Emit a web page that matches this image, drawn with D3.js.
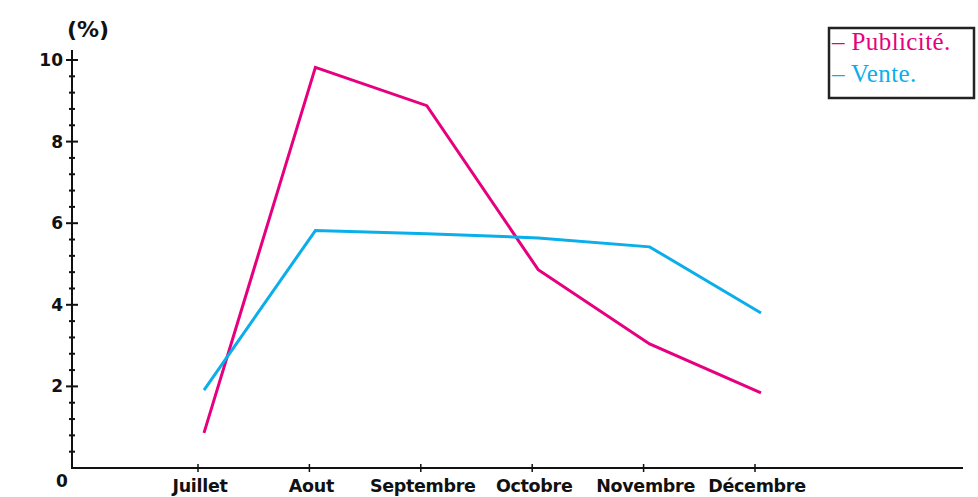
<!DOCTYPE html>
<html>
<head>
<meta charset="utf-8">
<script src="https://cdn.jsdelivr.net/npm/d3@7"></script>
<style>
  html, body { margin: 0; padding: 0; background: #ffffff; }
  svg { display: block; }
</style>
</head>
<body>
<svg id="chart" width="978" height="497"></svg>
<script>
// ---- Data ----
const months = ["Juillet", "Aout", "Septembre", "Octobre", "Novembre", "Décembre"];
const publicite = [0.86, 9.82, 8.88, 4.86, 3.04, 1.84];
const vente = [1.91, 5.82, 5.74, 5.64, 5.42, 3.80];
const yMajorTicks = [2, 4, 6, 8, 10];
const yMinorTicks = [0.4, 0.8, 1.2, 1.6, 2.4, 2.8, 3.2, 3.6, 4.4, 4.8, 5.2, 5.6, 6.4, 6.8, 7.2, 7.6, 8.4, 8.8, 9.2, 9.6];
const seriesNames = ["Publicité.", "Vente."];
const seriesColors = ["#e6007e", "#0aaeea"];

// ---- Layout ----
const svg = d3.select("#chart");
const x0 = 72, xEnd = 963;
const y = d3.scaleLinear().domain([0, 10]).range([468, 60]);
const x = d3.scalePoint().domain(months).range([198, 755]);
const lineShift = 6;
const labelFont = "'DejaVu Sans', Verdana, sans-serif";

// Axis lines
const axisG = svg.append("g").attr("stroke", "#111").attr("fill", "none");
axisG.append("line").attr("x1", x0).attr("x2", x0).attr("y1", y(0)).attr("y2", 50).attr("stroke-width", 2);
axisG.append("line").attr("x1", x0 - 1).attr("x2", xEnd).attr("y1", y(0)).attr("y2", y(0)).attr("stroke-width", 2);

// Y major ticks
axisG.selectAll(".ymaj").data(yMajorTicks).enter().append("line")
  .attr("x1", x0 - 6).attr("x2", x0 + 6)
  .attr("y1", d => y(d)).attr("y2", d => y(d)).attr("stroke-width", 2);
// Y minor ticks
axisG.selectAll(".ymin").data(yMinorTicks).enter().append("line")
  .attr("x1", x0 - 3).attr("x2", x0 + 3)
  .attr("y1", d => y(d)).attr("y2", d => y(d)).attr("stroke-width", 2);

// Y labels
svg.selectAll(".ylab").data(yMajorTicks).enter().append("text")
  .attr("x", x0 - 9).attr("y", d => y(d) + 6)
  .attr("text-anchor", "end")
  .attr("font-family", labelFont).attr("font-weight", "bold").attr("font-size", 17)
  .attr("fill", "#111")
  .text(d => d);
svg.append("text").attr("x", 62).attr("y", 487).attr("text-anchor", "middle")
  .attr("font-family", labelFont).attr("font-weight", "bold").attr("font-size", 17)
  .attr("fill", "#111").text("0");
svg.append("text").attr("x", 88).attr("y", 37).attr("text-anchor", "middle")
  .attr("font-family", labelFont).attr("font-weight", "bold").attr("font-size", 22)
  .attr("fill", "#111").text("(%)");

// X ticks
axisG.selectAll(".xt").data(months).enter().append("line")
  .attr("x1", d => x(d)).attr("x2", d => x(d))
  .attr("y1", y(0) - 4).attr("y2", y(0) + 4).attr("stroke-width", 1.5);
// X labels
svg.selectAll(".xlab").data(months).enter().append("text")
  .attr("x", d => x(d) + 2).attr("y", 492)
  .attr("text-anchor", "middle")
  .attr("font-family", labelFont).attr("font-weight", "bold").attr("font-size", 17.5)
  .attr("letter-spacing", -0.3)
  .attr("fill", "#111")
  .text(d => d);

// Lines
const line = d3.line().x((d, i) => x(months[i]) + lineShift).y(d => y(d));
[publicite, vente].forEach((s, k) => {
  svg.append("path").datum(s)
    .attr("d", line)
    .attr("fill", "none")
    .attr("stroke", seriesColors[k])
    .attr("stroke-width", 3)
    .attr("stroke-linejoin", "miter");
});

// Legend
const lg = svg.append("g");
lg.append("rect").attr("x", 829).attr("y", 28).attr("width", 145).attr("height", 70)
  .attr("fill", "#fff").attr("stroke", "#222").attr("stroke-width", 2.5);
seriesNames.forEach((n, i) => {
  lg.append("text").attr("x", 832).attr("y", 50 + i * 32)
    .attr("font-family", "'Liberation Serif', 'Times New Roman', serif")
    .attr("font-size", 25)
    .attr("letter-spacing", 0.4)
    .attr("fill", seriesColors[i])
    .text("– " + n);
});
</script>
</body>
</html>
